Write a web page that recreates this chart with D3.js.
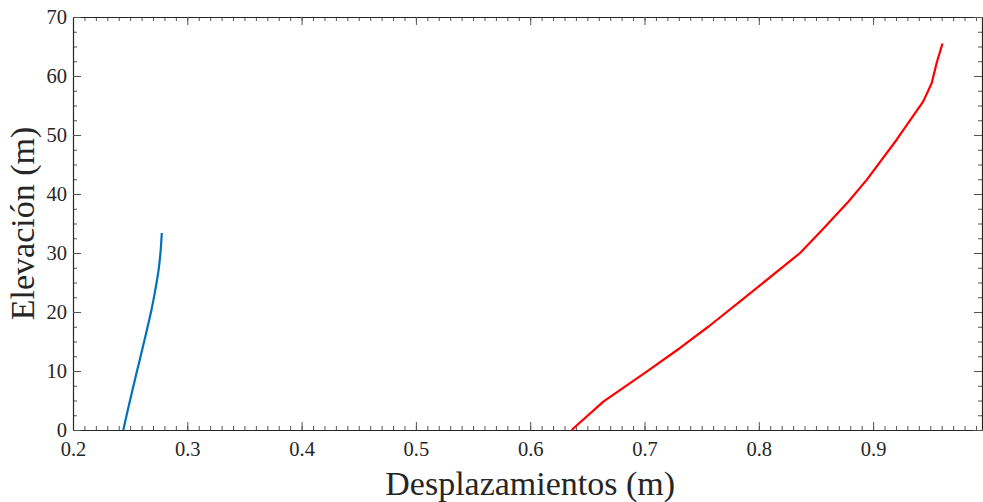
<!DOCTYPE html>
<html>
<head>
<meta charset="utf-8">
<script src="https://cdn.jsdelivr.net/npm/d3@7"></script>
<style>
  body { margin: 0; background: #fff; }
  svg { display: block; font-family: "Liberation Serif", "Times New Roman", serif; }
  .axis path { stroke: #262626; stroke-width: 1.2; }
  .axis line { stroke: #555; stroke-width: 1; }
  .axis text { font-family: "Liberation Serif", serif; font-size: 20.5px; fill: #262626; }
  .minor path { display: none; }
  .title { font-size: 34px; fill: #262626; }
</style>
</head>
<body>
<script>
// displacements (m) vs elevation (m)
var blueElev = [0, 3, 6.2, 10, 13, 17, 20.5, 24.3, 27, 30, 33.4];
var blueDisp = [0.2440, 0.2475, 0.2513, 0.2560, 0.2598, 0.2647, 0.2688, 0.2725, 0.2748, 0.2765, 0.2777];

var redElev = [0, 4.8, 9.9, 13.9, 17.5, 22, 30, 34.1, 38.7, 42.4, 49.2, 55.7, 58.8, 62.2, 65.5];
var redDisp = [0.6362, 0.6640, 0.7019, 0.7311, 0.7558, 0.7850, 0.8361, 0.8564, 0.8783, 0.8944, 0.9206, 0.9439, 0.9513, 0.9556, 0.9607];

var xTicks = [0.2, 0.3, 0.4, 0.5, 0.6, 0.7, 0.8, 0.9];
var yTicks = [0, 10, 20, 30, 40, 50, 60, 70];

// set the dimensions and margins of the graph
var margin = {top: 17, right: 1, bottom: 72, left: 73},
    width = 983 - margin.left - margin.right,
    height = 502 - margin.top - margin.bottom;

var x = d3.scaleLinear()
          .domain([0.2, 0.2 + width / 1143])
          .range([0, width]);
var y = d3.scaleLinear()
          .domain([0, 70])
          .range([height, 0]);

var svg = d3.select("body").append("svg")
    .attr("width", 983)
    .attr("height", 502);
var g = svg.append("g")
    .attr("transform", "translate(" + margin.left + "," + margin.top + ")");

// minor ticks
var xMinor = d3.range(20, 100).map(function(d) { return d / 100; });
var yMinor = d3.range(0, 71, 2.5);

g.append("g").attr("class", "axis minor")
    .attr("transform", "translate(0," + height + ")")
    .call(d3.axisBottom(x).tickValues(xMinor).tickSize(-4).tickFormat(""));
g.append("g").attr("class", "axis minor")
    .call(d3.axisTop(x).tickValues(xMinor).tickSize(-4).tickFormat(""));
g.append("g").attr("class", "axis minor")
    .call(d3.axisLeft(y).tickValues(yMinor).tickSize(-4).tickFormat(""));
g.append("g").attr("class", "axis minor")
    .attr("transform", "translate(" + width + ",0)")
    .call(d3.axisRight(y).tickValues(yMinor).tickSize(-4).tickFormat(""));

// major ticks + labels
g.append("g").attr("class", "axis")
    .attr("transform", "translate(0," + height + ")")
    .call(d3.axisBottom(x).tickValues(xTicks).tickSize(-8).tickPadding(11)
      .tickSizeOuter(0).tickFormat(d3.format(".1f")));
g.append("g").attr("class", "axis")
    .call(d3.axisTop(x).tickValues(xTicks).tickSize(-8).tickSizeOuter(0).tickFormat(""));
g.append("g").attr("class", "axis")
    .call(d3.axisLeft(y).tickValues(yTicks).tickSize(-8).tickPadding(6)
      .tickSizeOuter(0).tickFormat(d3.format("d")));
g.append("g").attr("class", "axis")
    .attr("transform", "translate(" + width + ",0)")
    .call(d3.axisRight(y).tickValues(yTicks).tickSize(-8).tickSizeOuter(0).tickFormat(""));

// lines
var line = d3.line()
    .x(function(d) { return x(d[1]); })
    .y(function(d) { return y(d[0]); });

g.append("path")
    .datum(d3.zip(blueElev, blueDisp))
    .attr("fill", "none")
    .attr("stroke", "#0072BD")
    .attr("stroke-width", 2.2)
    .attr("stroke-linejoin", "round")
    .attr("d", line.curve(d3.curveMonotoneY));

g.append("path")
    .datum(d3.zip(redElev, redDisp))
    .attr("fill", "none")
    .attr("stroke", "#FF0000")
    .attr("stroke-width", 2.2)
    .attr("stroke-linejoin", "round")
    .attr("d", line.curve(d3.curveLinear));

// axis titles
svg.append("text")
    .attr("class", "title")
    .attr("x", margin.left + x(0.6))
    .attr("y", 495)
    .attr("text-anchor", "middle")
    .text("Desplazamientos (m)");

svg.append("text")
    .attr("class", "title")
    .attr("transform", "translate(34," + (margin.top + y(35)) + ") rotate(-90)")
    .attr("text-anchor", "middle")
    .text("Elevación (m)");
</script>
</body>
</html>
